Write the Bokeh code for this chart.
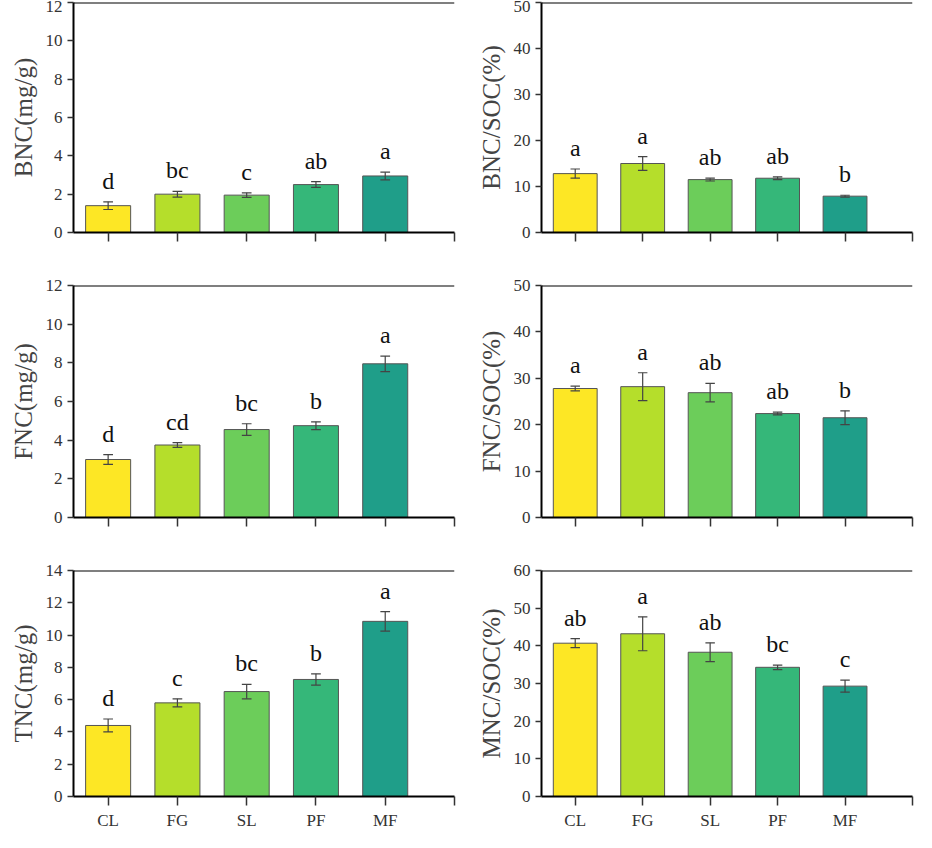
from bokeh.plotting import figure
from bokeh.layouts import gridplot
from bokeh.models import FixedTicker, Span, ColumnDataSource
from bokeh.core.properties import value
from bokeh.embed import file_html
from bokeh.resources import INLINE

cats = ["CL", "FG", "SL", "PF", "MF"]
colors = ["#fde725", "#b5de2b", "#6ccd5a", "#35b779", "#1f9e89"]

bnc = [1.4, 2.0, 1.95, 2.5, 2.95]; bnc_e = [0.2, 0.15, 0.12, 0.15, 0.2]; bnc_l = ["d", "bc", "c", "ab", "a"]
bncs = [12.8, 15.0, 11.5, 11.8, 7.9]; bncs_e = [1.0, 1.5, 0.3, 0.3, 0.2]; bncs_l = ["a", "a", "ab", "ab", "b"]
fnc = [3.0, 3.75, 4.55, 4.75, 7.95]; fnc_e = [0.25, 0.12, 0.3, 0.2, 0.4]; fnc_l = ["d", "cd", "bc", "b", "a"]
fncs = [27.8, 28.2, 26.9, 22.4, 21.5]; fncs_e = [0.5, 3.0, 2.0, 0.3, 1.5]; fncs_l = ["a", "a", "ab", "ab", "b"]
tnc = [4.4, 5.8, 6.5, 7.25, 10.85]; tnc_e = [0.4, 0.25, 0.45, 0.35, 0.6]; tnc_l = ["d", "c", "bc", "b", "a"]
mncs = [40.7, 43.2, 38.3, 34.3, 29.3]; mncs_e = [1.2, 4.5, 2.5, 0.6, 1.6]; mncs_l = ["ab", "a", "ab", "bc", "c"]

panels = [
    ("BNC(mg/g)", bnc, bnc_e, bnc_l, 12, 2),
    ("BNC/SOC(%)", bncs, bncs_e, bncs_l, 50, 10),
    ("FNC(mg/g)", fnc, fnc_e, fnc_l, 12, 2),
    ("FNC/SOC(%)", fncs, fncs_e, fncs_l, 50, 10),
    ("TNC(mg/g)", tnc, tnc_e, tnc_l, 14, 2),
    ("MNC/SOC(%)", mncs, mncs_e, mncs_l, 60, 10),
]

SERIF = "Liberation Serif"
figs = []
for i, (lab, vals, errs, lets, ymax, step) in enumerate(panels):
    row, col = divmod(i, 2)
    bt = 2 if row == 0 else 13
    bb = 30 if row == 2 else 40
    ph = 230 if row == 0 else 232
    bl = 73 if col == 0 else 83
    br = 4 if col == 0 else 2
    w = 458 if col == 0 else 456
    p = figure(width=w, height=ph + bt + bb, x_range=(-0.5, 5.0), y_range=(0, ymax),
               output_backend="svg", toolbar_location=None,
               min_border_left=bl, min_border_right=br, min_border_top=bt, min_border_bottom=bb)
    p.outline_line_color = None
    p.xgrid.visible = False
    p.ygrid.visible = False
    xs = list(range(5))
    src = ColumnDataSource(dict(x=xs, top=vals, c=colors,
                                xl=[x - 0.07 for x in xs], xr=[x + 0.07 for x in xs],
                                lo=[v - e for v, e in zip(vals, errs)],
                                hi=[v + e for v, e in zip(vals, errs)],
                                lab=lets))
    p.vbar(x="x", top="top", width=0.65, fill_color="c", line_color="#555555", line_width=1, source=src)
    p.segment(x0="x", x1="x", y0="lo", y1="hi", line_color="#444444", line_width=1.2, source=src)
    p.segment(x0="xl", x1="xr", y0="hi", y1="hi", line_color="#444444", line_width=1.2, source=src)
    p.segment(x0="xl", x1="xr", y0="lo", y1="lo", line_color="#444444", line_width=1.2, source=src)
    p.text(x="x", y="hi", text="lab", source=src, text_align="center", text_baseline="bottom",
           y_offset=-8, text_font=value(SERIF), text_font_size="24px", text_color="#111111")
    p.add_layout(Span(location=ymax, dimension="width", line_color="black", line_width=2))
    p.yaxis.ticker = FixedTicker(ticks=list(range(0, ymax + 1, step)))
    p.xaxis.ticker = FixedTicker(ticks=[0, 1, 2, 3, 4, 5])
    p.xaxis.major_label_overrides = {i2: (cats[i2] if (row == 2 and i2 < 5) else "") for i2 in range(6)}
    for ax in (p.xaxis, p.yaxis):
        ax.axis_line_width = 2
        ax.axis_line_color = "black"
        ax.major_tick_line_color = "#333333"
        ax.major_tick_line_width = 1.5
        ax.minor_tick_line_color = None
        ax.major_label_text_font = SERIF
        ax.major_label_text_font_size = "17px"
        ax.major_label_text_color = "#333333"
    p.xaxis.major_tick_out = 9
    p.xaxis.major_tick_in = 0
    p.yaxis.major_tick_out = 6
    p.yaxis.major_tick_in = 0
    p.yaxis.axis_label = lab
    p.yaxis.axis_label_text_font = SERIF
    p.yaxis.axis_label_text_font_style = "normal"
    p.yaxis.axis_label_text_font_size = "25px"
    p.yaxis.axis_label_standoff = 6
    figs.append(p)

grid = gridplot([[figs[0], figs[1]], [figs[2], figs[3]], [figs[4], figs[5]]], toolbar_location=None)
open("out.html", "w").write(file_html(grid, INLINE))
